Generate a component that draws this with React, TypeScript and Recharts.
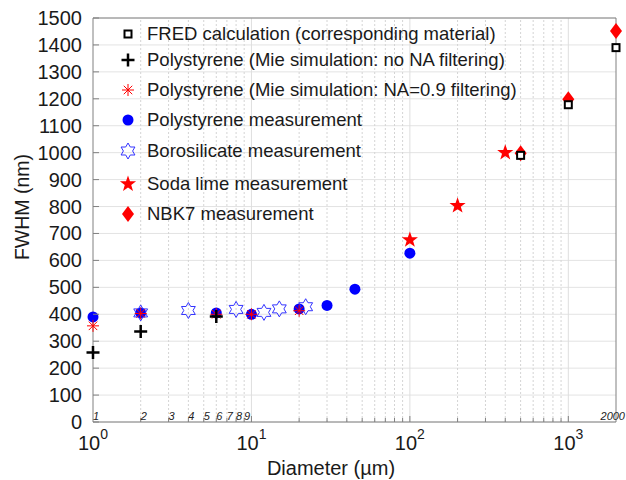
import React from "react";
import {
  ScatterChart,
  Scatter,
  XAxis,
  YAxis,
  CartesianGrid,
  ReferenceLine,
  Legend,
} from "recharts";

// FWHM (nm) vs particle diameter (µm)
const fredCalc = [
  { d: 500, fwhm: 990 },
  { d: 1000, fwhm: 1178 },
  { d: 2000, fwhm: 1390 },
];
const mieNoNA = [
  { d: 1, fwhm: 258 },
  { d: 2, fwhm: 336 },
  { d: 6, fwhm: 392 },
];
const mieNA09 = [
  { d: 1, fwhm: 357 },
  { d: 2, fwhm: 403 },
  { d: 6, fwhm: 400 },
  { d: 10, fwhm: 400 },
  { d: 20, fwhm: 413 },
];
const psMeas = [
  { d: 1, fwhm: 390 },
  { d: 2, fwhm: 405 },
  { d: 6, fwhm: 405 },
  { d: 10, fwhm: 400 },
  { d: 20, fwhm: 420 },
  { d: 30, fwhm: 433 },
  { d: 45, fwhm: 493 },
  { d: 100, fwhm: 627 },
];
const boroMeas = [
  { d: 2, fwhm: 405 },
  { d: 4, fwhm: 414 },
  { d: 8, fwhm: 418 },
  { d: 12, fwhm: 407 },
  { d: 15, fwhm: 420 },
  { d: 22, fwhm: 428 },
];
const sodaMeas = [
  { d: 100, fwhm: 676 },
  { d: 200, fwhm: 803 },
  { d: 400, fwhm: 1000 },
];
const nbk7Meas = [
  { d: 500, fwhm: 998 },
  { d: 1000, fwhm: 1198 },
  { d: 2000, fwhm: 1452 },
];

const DECADES = [1, 10, 100, 1000];
const MINORS = [2, 3, 4, 5, 6, 7, 8, 9, 20, 30, 40, 50, 60, 70, 80, 90, 200, 300, 400, 500, 600, 700, 800, 900];
const X_TICKS = [...DECADES, ...MINORS, 2000].sort((a, b) => a - b);
const X_SMALL_LABELS = [1, 2, 3, 4, 5, 6, 7, 8, 9, 2000];
const Y_TICKS = [0, 100, 200, 300, 400, 500, 600, 700, 800, 900, 1000, 1100, 1200, 1300, 1400, 1500];

const FONT = "'Liberation Sans', Arial, sans-serif";
const AXIS = "#808080";

// marker shapes (matlab-like)
const Square = ({ cx, cy }: any) => (
  <rect x={cx - 3.5} y={cy - 3.5} width={7} height={7} fill="#fff" stroke="#000" strokeWidth={2} />
);
const Plus = ({ cx, cy }: any) => (
  <path d={`M${cx - 6.5},${cy}H${cx + 6.5}M${cx},${cy - 6.5}V${cy + 6.5}`} stroke="#000" strokeWidth={2.5} />
);
const Asterisk = ({ cx, cy }: any) => {
  const r = 6;
  const k = r * 0.707;
  return (
    <path
      d={`M${cx - r},${cy}H${cx + r}M${cx},${cy - r}V${cy + r}M${cx - k},${cy - k}L${cx + k},${cy + k}M${cx - k},${cy + k}L${cx + k},${cy - k}`}
      stroke="#ff0000"
      strokeWidth={1}
    />
  );
};
const Dot = ({ cx, cy }: any) => <circle cx={cx} cy={cy} r={5.5} fill="#0000ff" />;

function starPoints(cx: number, cy: number, n: number, R: number, r: number) {
  const pts: string[] = [];
  for (let i = 0; i < n * 2; i++) {
    const a = (Math.PI * i) / n - Math.PI / 2;
    const rad = i % 2 === 0 ? R : r;
    pts.push(`${cx + rad * Math.cos(a)},${cy + rad * Math.sin(a)}`);
  }
  return pts.join(" ");
}
const Hexagram = ({ cx, cy }: any) => (
  <polygon points={starPoints(cx, cy, 6, 8, 4.6)} fill="none" stroke="#3333ff" strokeWidth={1} />
);
const Star5 = ({ cx, cy }: any) => (
  <polygon points={starPoints(cx, cy, 5, 8.5, 3.4)} fill="#ff0000" />
);
const Diamond = ({ cx, cy }: any) => (
  <polygon points={`${cx},${cy - 8} ${cx + 6},${cy} ${cx},${cy + 8} ${cx - 6},${cy}`} fill="#ff0000" />
);

const LEGEND_ITEMS = [
  { name: "FRED calculation (corresponding material)", Shape: Square, y: 33 },
  { name: "Polystyrene (Mie simulation: no NA filtering)", Shape: Plus, y: 59 },
  { name: "Polystyrene (Mie simulation: NA=0.9 filtering)", Shape: Asterisk, y: 89 },
  { name: "Polystyrene measurement", Shape: Dot, y: 119 },
  { name: "Borosilicate measurement", Shape: Hexagram, y: 150 },
  { name: "Soda lime measurement", Shape: Star5, y: 183 },
  { name: "NBK7 measurement", Shape: Diamond, y: 213 },
];

const renderLegend = () => (
  <svg width={626} height={240} style={{ display: "block" }}>
    {LEGEND_ITEMS.map(({ name, Shape, y }) => (
      <g key={name}>
        <Shape cx={128} cy={y + 1} />
        <text x={147} y={y + 6.5} fontSize={18.5} fontFamily={FONT} fill="#1a1a1a">
          {name}
        </text>
      </g>
    ))}
  </svg>
);

const BottomTick = (props: any) => {
  const { x, y, payload } = props;
  const v = payload.value;
  const isDecade = DECADES.includes(v);
  const exp = Math.round(Math.log10(v));
  return (
    <g>
      {v !== 1 && v !== 2000 && <line x1={x} x2={x} y1={y} y2={y - (isDecade ? 6 : 4)} stroke={AXIS} />}
      {X_SMALL_LABELS.includes(v) && (
        <text
          x={v === 2000 ? 625 : x + 3}
          y={y - 2}
          fontSize={11}
          fontStyle="italic"
          fontFamily={FONT}
          textAnchor={v === 2000 ? "end" : "middle"}
          fill="#222"
        >
          {v}
        </text>
      )}
      {isDecade && (
        <text x={x} y={y + 28} fontSize={20} fontFamily={FONT} textAnchor="middle" fill="#1a1a1a">
          10
          <tspan dy={-11} fontSize={14}>
            {exp}
          </tspan>
        </text>
      )}
    </g>
  );
};

const TopTick = (props: any) => {
  const { x, y, payload } = props;
  const v = payload.value;
  if (v === 1 || v === 2000) return <g />;
  const isDecade = DECADES.includes(v);
  return <line x1={x} x2={x} y1={y} y2={y + (isDecade ? 6 : 4)} stroke={AXIS} />;
};

const LeftTick = (props: any) => {
  const { x, y, payload } = props;
  return (
    <g>
      <line x1={x} x2={x + 6} y1={y} y2={y} stroke={AXIS} />
      <text x={x - 11} y={y + 7} fontSize={20} fontFamily={FONT} textAnchor="end" fill="#1a1a1a">
        {payload.value}
      </text>
    </g>
  );
};

const RightTick = (props: any) => {
  const { x, y } = props;
  return <line x1={x} x2={x - 6} y1={y} y2={y} stroke={AXIS} />;
};

export default function App() {
  return (
    <div style={{ position: "fixed", left: 0, top: 0, width: 626, height: 480, background: "#fff" }}>
      <ScatterChart width={626} height={480} margin={{ top: 0, right: 0, left: 0, bottom: 0 }}>
        <CartesianGrid horizontal vertical={false} stroke="#e3e3e3" horizontalValues={Y_TICKS} />
        {MINORS.map((v) => (
          <ReferenceLine key={`m${v}`} x={v} stroke="#d4d4d4" strokeDasharray="2 2" />
        ))}
        {[10, 100, 1000].map((v) => (
          <ReferenceLine key={`d${v}`} x={v} stroke="#dedede" />
        ))}
        <XAxis
          dataKey="d"
          type="number"
          scale="log"
          domain={[1, 2000]}
          ticks={X_TICKS}
          interval={0}
          tickSize={0}
          tickMargin={0}
          height={58}
          stroke={AXIS}
          tick={<BottomTick />}
          label={{
            content: () => (
              <text x={331} y={475} fontSize={20} fontFamily={FONT} textAnchor="middle" fill="#1a1a1a">
                Diameter (µm)
              </text>
            ),
          }}
        />
        <XAxis
          xAxisId="top"
          orientation="top"
          type="number"
          scale="log"
          domain={[1, 2000]}
          ticks={X_TICKS}
          interval={0}
          tickSize={0}
          tickMargin={0}
          height={18}
          stroke={AXIS}
          tick={<TopTick />}
        />
        <YAxis
          dataKey="fwhm"
          type="number"
          domain={[0, 1500]}
          ticks={Y_TICKS}
          interval={0}
          tickSize={0}
          tickMargin={0}
          width={93}
          stroke={AXIS}
          tick={<LeftTick />}
          label={{
            content: () => (
              <text
                x={22}
                y={207}
                transform="rotate(-90 22 207)"
                fontSize={19.5}
                fontFamily={FONT}
                textAnchor="middle"
                dominantBaseline="central"
                fill="#1a1a1a"
              >
                FWHM (nm)
              </text>
            ),
          }}
        />
        <YAxis
          yAxisId="right"
          orientation="right"
          type="number"
          domain={[0, 1500]}
          ticks={Y_TICKS}
          interval={0}
          tickSize={0}
          tickMargin={0}
          width={10}
          stroke={AXIS}
          tick={<RightTick />}
        />
        <Legend
          layout="vertical"
          align="center"
          verticalAlign="middle"
          content={renderLegend}
          wrapperStyle={{ position: "absolute", left: 0, top: 0, width: 626, height: 240, pointerEvents: "none" }}
        />
        <Scatter name="Polystyrene measurement" data={psMeas} shape={Dot} isAnimationActive={false} />
        <Scatter name="Borosilicate measurement" data={boroMeas} shape={Hexagram} isAnimationActive={false} />
        <Scatter name="Polystyrene (Mie simulation: NA=0.9 filtering)" data={mieNA09} shape={Asterisk} isAnimationActive={false} />
        <Scatter name="Polystyrene (Mie simulation: no NA filtering)" data={mieNoNA} shape={Plus} isAnimationActive={false} />
        <Scatter name="Soda lime measurement" data={sodaMeas} shape={Star5} isAnimationActive={false} />
        <Scatter name="NBK7 measurement" data={nbk7Meas} shape={Diamond} isAnimationActive={false} />
        <Scatter name="FRED calculation (corresponding material)" data={fredCalc} shape={Square} isAnimationActive={false} />
      </ScatterChart>
    </div>
  );
}
